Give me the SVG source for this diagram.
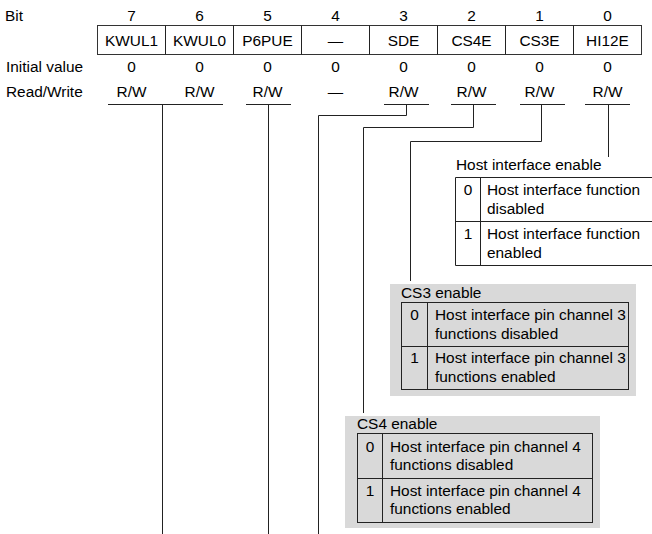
<svg xmlns="http://www.w3.org/2000/svg" width="652" height="534" viewBox="0 0 652 534">
<style>
text{font-family:"Liberation Sans",Arial,sans-serif;font-size:15.4px;fill:#000}
.c{text-anchor:middle}
.ln{fill:none;stroke:#222;stroke-width:1}
.bx{fill:#fff;stroke:#333;stroke-width:1}
.gb{fill:#d9d9d9;stroke:none}
.tb{fill:none;stroke:#222;stroke-width:1}
</style>
<rect width="652" height="534" fill="#fff"/>
<g id="register">
<text x="5" y="21">Bit</text>
<text x="6" y="72">Initial value</text>
<text x="6" y="97">Read/Write</text>
<rect class="bx" x="97.5" y="25.5" width="544" height="29"/>
<path class="ln" d="M165.5 25.5V54.5M233.5 25.5V54.5M301.5 25.5V54.5M369.5 25.5V54.5M437.5 25.5V54.5M505.5 25.5V54.5M573.5 25.5V54.5"/>
<g class="c">
<text x="131.5" y="21">7</text><text x="199.5" y="21">6</text><text x="267.5" y="21">5</text><text x="335.5" y="21">4</text>
<text x="403.5" y="21">3</text><text x="471.5" y="21">2</text><text x="539.5" y="21">1</text><text x="607.5" y="21">0</text>
<text x="131.5" y="46">KWUL1</text><text x="199.5" y="46">KWUL0</text><text x="267.5" y="46">P6PUE</text><text x="335.5" y="46">—</text>
<text x="403.5" y="46">SDE</text><text x="471.5" y="46">CS4E</text><text x="539.5" y="46">CS3E</text><text x="607.5" y="46">HI12E</text>
<text x="131.5" y="72">0</text><text x="199.5" y="72">0</text><text x="267.5" y="72">0</text><text x="335.5" y="72">0</text>
<text x="403.5" y="72">0</text><text x="471.5" y="72">0</text><text x="539.5" y="72">0</text><text x="607.5" y="72">0</text>
<text x="131.5" y="97">R/W</text><text x="199.5" y="97">R/W</text><text x="267.5" y="97">R/W</text><text x="335.5" y="97">—</text>
<text x="403.5" y="97">R/W</text><text x="471.5" y="97">R/W</text><text x="539.5" y="97">R/W</text><text x="607.5" y="97">R/W</text>
</g>
<path class="ln" d="M108 104.5H223M246 104.5H291M384 104.5H429M451 104.5H496M520 104.5H565M585 104.5H630"/>
</g>
<g id="connectors">
<path class="ln" d="M162.5 104.5V534"/>
<path class="ln" d="M268.5 104.5V534"/>
<path class="ln" d="M406.5 104.5V115.5H318.5V534"/>
<path class="ln" d="M473.5 104.5V127.5H363.5V413"/>
<path class="ln" d="M541.5 104.5V141.5H410.5V281"/>
<path class="ln" d="M608.5 104.5V157"/>
</g>
<g id="hi12e-table">
<text x="456" y="170">Host interface enable</text>
<path class="tb" d="M660 177.5H455.5V265.5H660M455.5 221.5H660M480.5 177.5V265.5"/>
<text class="c" x="468" y="195">0</text>
<text x="487" y="195">Host interface function</text>
<text x="487" y="214">disabled</text>
<text class="c" x="468" y="239">1</text>
<text x="487" y="239">Host interface function</text>
<text x="487" y="258">enabled</text>
</g>
<g id="cs3e-table">
<rect class="gb" x="390" y="284" width="246" height="112"/>
<text x="401" y="298">CS3 enable</text>
<rect class="tb" x="401.5" y="302.5" width="227" height="87"/>
<path class="tb" d="M401.5 346.5H628.5M427.5 302.5V389.5"/>
<text class="c" x="414.5" y="320">0</text>
<text x="435" y="320">Host interface pin channel 3</text>
<text x="435" y="339">functions disabled</text>
<text class="c" x="414.5" y="363">1</text>
<text x="435" y="363">Host interface pin channel 3</text>
<text x="435" y="382">functions enabled</text>
</g>
<g id="cs4e-table">
<rect class="gb" x="345" y="416" width="255" height="112"/>
<text x="357" y="429">CS4 enable</text>
<rect class="tb" x="357.5" y="433.5" width="235" height="89"/>
<path class="tb" d="M357.5 478.5H592.5M382.5 433.5V522.5"/>
<text class="c" x="370" y="452">0</text>
<text x="390" y="452">Host interface pin channel 4</text>
<text x="390" y="470">functions disabled</text>
<text class="c" x="370" y="496">1</text>
<text x="390" y="496">Host interface pin channel 4</text>
<text x="390" y="514">functions enabled</text>
</g>
</svg>
